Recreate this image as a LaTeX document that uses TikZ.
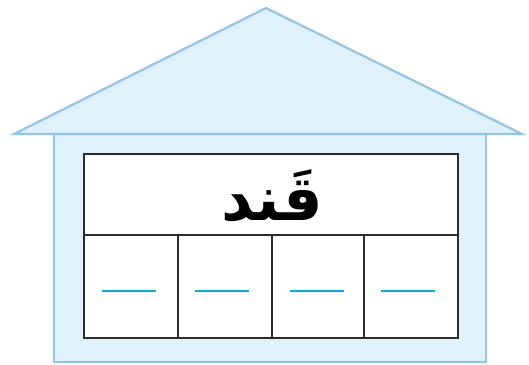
\documentclass[tikz,border=0pt]{standalone}
\usepackage{fontspec}
\TeXXeTstate=1
\newfontfamily\arabicfont[Script=Arabic]{DejaVu Sans}
\definecolor{housefill}{HTML}{DFF1FA}
\definecolor{houseline}{HTML}{92C5EA}
\definecolor{dashblue}{HTML}{00AEEF}
\definecolor{gridline}{HTML}{2B2B2B}
\tikzset{
  house/.style={fill=housefill, draw=houseline, line width=2.2pt, line join=miter},
  grid/.style={draw=gridline, line width=2pt},
  blank/.style={draw=dashblue, line width=2.2pt},
}
\begin{document}
\begin{tikzpicture}[x=1pt,y=-1pt]
\useasboundingbox (0,0) rectangle (529,364);
% body
\path[house] (54,134) rectangle (486,362);
% roof
\path[house] (14,134) -- (266,8) -- (522,134) -- cycle;
% table
\fill[white] (84,154) rectangle (458,338);
\draw[grid] (84,154) rectangle (458,338);
\draw[grid] (84,235) -- (458,235);
\draw[grid] (178,235) -- (178,338);
\draw[grid] (272,235) -- (272,338);
\draw[grid] (364,235) -- (364,338);
% word
\node[font=\arabicfont\bfseries\fontsize{62}{70}\selectfont, inner sep=0pt] (word) at (272,196) {\beginR قَند\endR};
% blanks
\draw[blank] (102,291) -- (156,291);
\draw[blank] (195,291) -- (249,291);
\draw[blank] (290,291) -- (344,291);
\draw[blank] (381,291) -- (435,291);
\end{tikzpicture}
\end{document}
